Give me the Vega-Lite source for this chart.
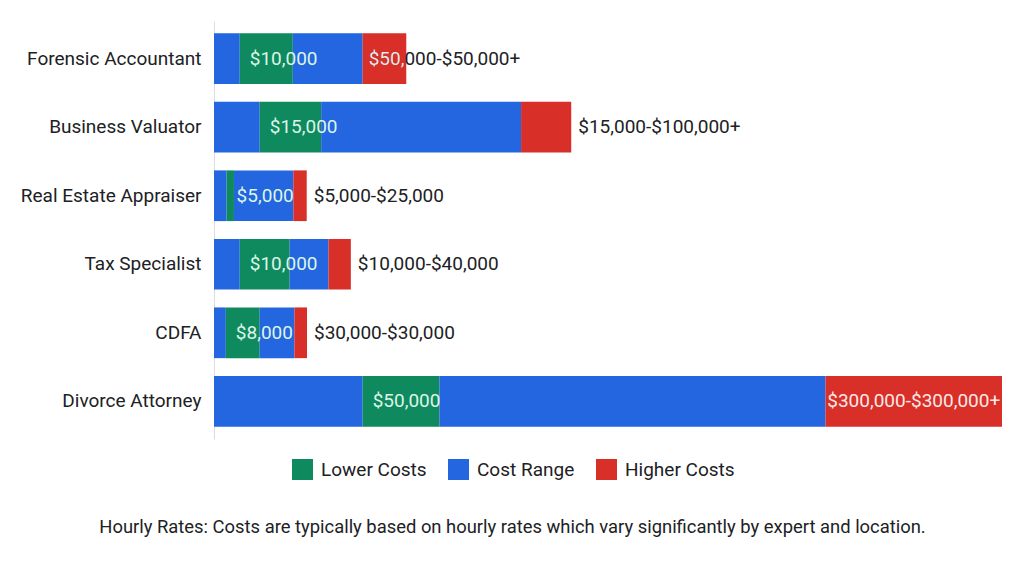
{
  "$schema": "https://vega.github.io/schema/vega-lite/v6.json",
  "width": 788,
  "height": 418,
  "autosize": "none",
  "padding": {"left": 214, "top": 21, "right": 22, "bottom": 133},
  "background": "white",
  "config": {"view": {"stroke": null}, "font": "Roboto"},
  "resolve": {"axis": {"x": "independent"}},
  "data": {
    "values": [
      {"role": "Forensic Accountant", "below": 9.8, "lower": 20.2, "range": 26.6, "higher": 16.6, "lowLabel": "$10,000", "rangeLabel": "$50,000-$50,000+"},
      {"role": "Business Valuator", "below": 17.4, "lower": 23.4, "range": 76.1, "higher": 19.1, "lowLabel": "$15,000", "rangeLabel": "$15,000-$100,000+"},
      {"role": "Real Estate Appraiser", "below": 4.8, "lower": 2.8, "range": 22.6, "higher": 5.1, "lowLabel": "$5,000", "rangeLabel": "$5,000-$25,000"},
      {"role": "Tax Specialist", "below": 9.8, "lower": 19.0, "range": 14.8, "higher": 8.5, "lowLabel": "$10,000", "rangeLabel": "$10,000-$40,000"},
      {"role": "CDFA", "below": 4.5, "lower": 12.9, "range": 13.2, "higher": 4.8, "lowLabel": "$8,000", "rangeLabel": "$30,000-$30,000"},
      {"role": "Divorce Attorney", "below": 56.6, "lower": 29.2, "range": 147.0, "higher": 67.2, "lowLabel": "$50,000", "rangeLabel": "$300,000-$300,000+"}
    ]
  },
  "transform": [
    {"calculate": "datum.below + datum.lower + datum.range + datum.higher", "as": "total"},
    {"calculate": "datum.total - datum.higher", "as": "redStart"},
    {"calculate": "datum.total - datum.higher / 2", "as": "redMid"}
  ],
  "encoding": {
    "y": {
      "field": "role",
      "type": "nominal",
      "sort": ["Forensic Accountant", "Business Valuator", "Real Estate Appraiser", "Tax Specialist", "CDFA", "Divorce Attorney"],
      "scale": {"paddingInner": 0.26, "paddingOuter": 0.18},
      "axis": {
        "title": null,
        "domain": true,
        "domainColor": "#dadce0",
        "domainWidth": 1,
        "ticks": false,
        "labelFontSize": 19,
        "labelColor": "#202124",
        "labelPadding": 13,
        "labelLimit": 300
      }
    }
  },
  "layer": [
    {
      "transform": [
        {"fold": ["below", "lower", "range", "higher"], "as": ["seg", "value"]},
        {"calculate": "indexof(['below','lower','range','higher'], datum.seg)", "as": "segOrder"},
        {"calculate": "datum.seg === 'lower' ? 'Lower Costs' : (datum.seg === 'higher' ? 'Higher Costs' : 'Cost Range')", "as": "part"}
      ],
      "mark": {"type": "bar"},
      "encoding": {
        "x": {
          "field": "value",
          "type": "quantitative",
          "stack": "zero",
          "scale": {"domain": [0, 300], "nice": false, "zero": true},
          "title": "Hourly Rates: Costs are typically based on hourly rates which vary significantly by expert and location.",
          "axis": {
            "domain": false,
            "ticks": false,
            "labels": false,
            "grid": false,
            "titleFontSize": 18.4,
            "titleFontWeight": "normal",
            "titleColor": "#202124",
            "titleX": 298,
            "titleY": 87,
            "titleBaseline": "middle",
            "titleAlign": "center"
          }
        },
        "color": {
          "field": "part",
          "type": "nominal",
          "scale": {"domain": ["Lower Costs", "Cost Range", "Higher Costs"], "range": ["#0f8a5e", "#2366df", "#d82f28"]},
          "legend": {
            "title": null,
            "orient": "none",
            "legendX": 78,
            "legendY": 438,
            "direction": "horizontal",
            "symbolType": "square",
            "symbolSize": 441,
            "symbolStrokeWidth": 0,
            "symbolOpacity": 1,
            "labelFontSize": 19,
            "labelOffset": 8,
            "columnPadding": 21,
            "labelColor": "#202124"
          }
        },
        "order": {"field": "segOrder", "type": "quantitative"}
      }
    },
    {
      "mark": {"type": "text", "align": "left", "baseline": "middle", "dx": 10, "fontSize": 19, "color": "#dcf5e8"},
      "encoding": {
        "x": {"field": "below", "type": "quantitative", "axis": null},
        "text": {"field": "lowLabel"}
      }
    },
    {
      "transform": [{"filter": "datum.role !== 'Divorce Attorney' && datum.role !== 'Forensic Accountant'"}],
      "mark": {"type": "text", "align": "left", "baseline": "middle", "dx": 7, "fontSize": 19, "color": "#202124"},
      "encoding": {
        "x": {"field": "total", "type": "quantitative", "axis": null},
        "text": {"field": "rangeLabel"}
      }
    },
    {
      "transform": [{"filter": "datum.role === 'Forensic Accountant'"}],
      "mark": {"type": "text", "align": "left", "baseline": "middle", "dx": 6, "fontSize": 19, "color": "#202124"},
      "encoding": {
        "x": {"field": "redStart", "type": "quantitative", "axis": null},
        "text": {"field": "rangeLabel"}
      }
    },
    {
      "transform": [
        {"filter": "datum.role === 'Forensic Accountant'"},
        {"calculate": "slice(datum.rangeLabel, 0, 4)", "as": "insidePart"}
      ],
      "mark": {"type": "text", "align": "left", "baseline": "middle", "dx": 6, "fontSize": 19, "color": "#fbe9e7"},
      "encoding": {
        "x": {"field": "redStart", "type": "quantitative", "axis": null},
        "text": {"field": "insidePart"}
      }
    },
    {
      "transform": [{"filter": "datum.role === 'Divorce Attorney'"}],
      "mark": {"type": "text", "align": "center", "baseline": "middle", "fontSize": 19, "color": "#fbe9e7"},
      "encoding": {
        "x": {"field": "redMid", "type": "quantitative", "axis": null},
        "text": {"field": "rangeLabel"}
      }
    }
  ]
}
